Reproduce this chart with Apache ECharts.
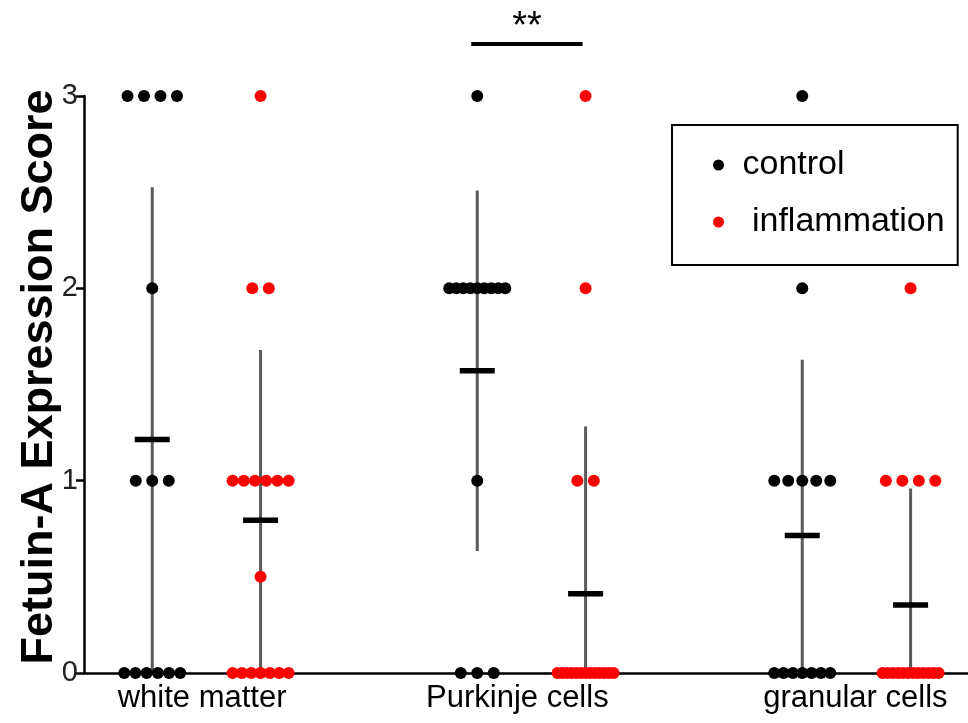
<!DOCTYPE html>
<html>
<head>
<meta charset="utf-8">
<title>Fetuin-A Expression Score</title>
<script src="https://cdn.jsdelivr.net/npm/echarts@6/dist/echarts.min.js"></script>
<style>
html, body { margin: 0; padding: 0; background: #fff; }
#main { width: 968px; height: 723px; }
</style>
</head>
<body>
<div id="main"></div>
<script>
// regions along the x axis
var categories = ['white matter', 'Purkinje cells', 'granular cells'];
var yTicks = [0, 1, 2, 3];

// scores per section
var wmControl = [3, 3, 3, 3, 2, 1, 1, 1, 0, 0, 0, 0, 0, 0];
var wmInflam  = [3, 2, 2, 1, 1, 1, 1, 1, 1, 0.5, 0, 0, 0, 0, 0, 0, 0];
var pcControl = [3, 2, 2, 2, 2, 2, 2, 2, 2, 2, 1, 0, 0, 0];
var pcInflam  = [3, 2, 1, 1, 0, 0, 0, 0, 0, 0, 0, 0, 0, 0, 0, 0, 0];
var gcControl = [3, 2, 1, 1, 1, 1, 1, 0, 0, 0, 0, 0, 0, 0];
var gcInflam  = [2, 1, 1, 1, 1, 0, 0, 0, 0, 0, 0, 0, 0, 0, 0, 0, 0];

var controlGroups = [wmControl, pcControl, gcControl];
var inflamGroups  = [wmInflam, pcInflam, gcInflam];

// ** between Purkinje control and inflammation
var sigPair = [3, 4];
var sigLevel = 3.27;

function mean(a) {
    var s = 0;
    for (var i = 0; i < a.length; i++) s += a[i];
    return s / a.length;
}
function sd(a) {
    var m = mean(a), s = 0;
    for (var i = 0; i < a.length; i++) s += (a[i] - m) * (a[i] - m);
    return Math.sqrt(s / (a.length - 1));
}

// spread equal scores side by side like a column scatter
function dots(values, slot) {
    var byVal = {};
    values.forEach(function (v) { byVal[v] = (byVal[v] || 0) + 1; });
    var out = [];
    Object.keys(byVal).forEach(function (k) {
        var n = byVal[k];
        var sp = n > 1 ? Math.min(16.5, 56 / (n - 1)) : 0;
        for (var j = 0; j < n; j++) {
            out.push({ value: [slot, +k], symbolOffset: [(j - (n - 1) / 2) * sp, 0] });
        }
    });
    return out;
}

var controlDots = [], inflamDots = [], bars = [];
for (var i = 0; i < 3; i++) {
    controlDots = controlDots.concat(dots(controlGroups[i], 3 * i));
    inflamDots = inflamDots.concat(dots(inflamGroups[i], 3 * i + 1));
    [controlGroups[i], inflamGroups[i]].forEach(function (g, j) {
        var m = mean(g), s = sd(g);
        bars.push([3 * i + j, m, Math.max(0, m - s), m + s]);
    });
}

var font = 'Liberation Sans, Arial, sans-serif';
var labelPos = [0.46, 3.37, 6.49];

var myChart = echarts.init(document.getElementById('main'));
var option = {
    animation: false,
    textStyle: { fontFamily: font },
    grid: { left: 84, right: 0, top: 96, bottom: 50, outerBoundsMode: 'none' },
    legend: {
        left: 672, top: 125,
        orient: 'vertical',
        borderColor: '#000', borderWidth: 2,
        padding: [23, 13, 26, 41],
        itemWidth: 38, itemHeight: 11, itemGap: 23,
        textStyle: { fontSize: 34, color: '#000', fontFamily: font, lineHeight: 34 },
        data: [{ name: 'control', icon: 'circle' }, { name: ' inflammation', icon: 'circle' }]
    },
    xAxis: {
        type: 'value', min: -0.63, max: 7.53,
        splitLine: { show: false },
        axisLine: { onZero: false, lineStyle: { color: '#000', width: 2.5 } },
        axisTick: { show: false },
        axisLabel: {
            customValues: labelPos,
            fontSize: 31, color: '#000', margin: 10,
            formatter: function (v) {
                for (var k = 0; k < labelPos.length; k++) {
                    if (Math.abs(labelPos[k] - v) < 1e-6) return categories[k];
                }
                return '';
            }
        }
    },
    yAxis: {
        type: 'value', min: 0, max: 3, interval: 1,
        name: 'Fetuin-A Expression Score',
        nameLocation: 'middle', nameGap: 22, nameMoveOverlap: false,
        nameTextStyle: { fontSize: 45, fontWeight: 'bold', color: '#000', fontFamily: font, padding: [0, 0, 0, 15] },
        splitLine: { show: false },
        axisLine: { show: true, onZero: false, lineStyle: { color: '#000', width: 2.5 } },
        axisTick: { show: true, length: 8, lineStyle: { color: '#000', width: 2.5 } },
        axisLabel: {
            fontSize: 29, color: '#222', margin: 6,
            formatter: function (v) { return yTicks.indexOf(v) >= 0 ? String(v) : ''; }
        }
    },
    series: [
        {
            name: 'control', type: 'scatter', symbol: 'circle', symbolSize: 12,
            itemStyle: { color: '#000', opacity: 1 }, clip: false, z: 3,
            data: controlDots
        },
        {
            name: ' inflammation', type: 'scatter', symbol: 'circle', symbolSize: 12,
            itemStyle: { color: '#ff0000', opacity: 1 }, clip: false, z: 3,
            data: inflamDots
        },
        {
            name: 'sd', type: 'custom', clip: false, z: 2,
            data: bars,
            renderItem: function (params, api) {
                var x = api.coord([api.value(0), 0])[0];
                var ym = api.coord([0, api.value(1)])[1];
                var ylo = api.coord([0, api.value(2)])[1];
                var yhi = api.coord([0, api.value(3)])[1];
                return {
                    type: 'group',
                    children: [
                        { type: 'line', shape: { x1: x, y1: ylo, x2: x, y2: yhi },
                          style: { stroke: '#5a5a5a', lineWidth: 3 } },
                        { type: 'line', z2: 10, shape: { x1: x - 17.5, y1: ym, x2: x + 17.5, y2: ym },
                          style: { stroke: '#000', lineWidth: 5.5 } }
                    ]
                };
            }
        },
        {
            name: 'sig', type: 'custom', clip: false, z: 4,
            data: [[sigPair[0], sigPair[1], sigLevel]],
            renderItem: function (params, api) {
                var p1 = api.coord([api.value(0), api.value(2)]);
                var p2 = api.coord([api.value(1), api.value(2)]);
                var x1 = p1[0] - 6, x2 = p2[0] - 3;
                return {
                    type: 'group',
                    children: [
                        { type: 'line', shape: { x1: x1, y1: p1[1], x2: x2, y2: p1[1] },
                          style: { stroke: '#000', lineWidth: 4 } },
                        { type: 'text', style: { text: '**', x: (x1 + x2) / 2, y: p1[1] - 36,
                          align: 'center', verticalAlign: 'top', fontSize: 38, fill: '#000', fontFamily: font } }
                    ]
                };
            }
        }
    ]
};
myChart.setOption(option);
</script>
</body>
</html>
